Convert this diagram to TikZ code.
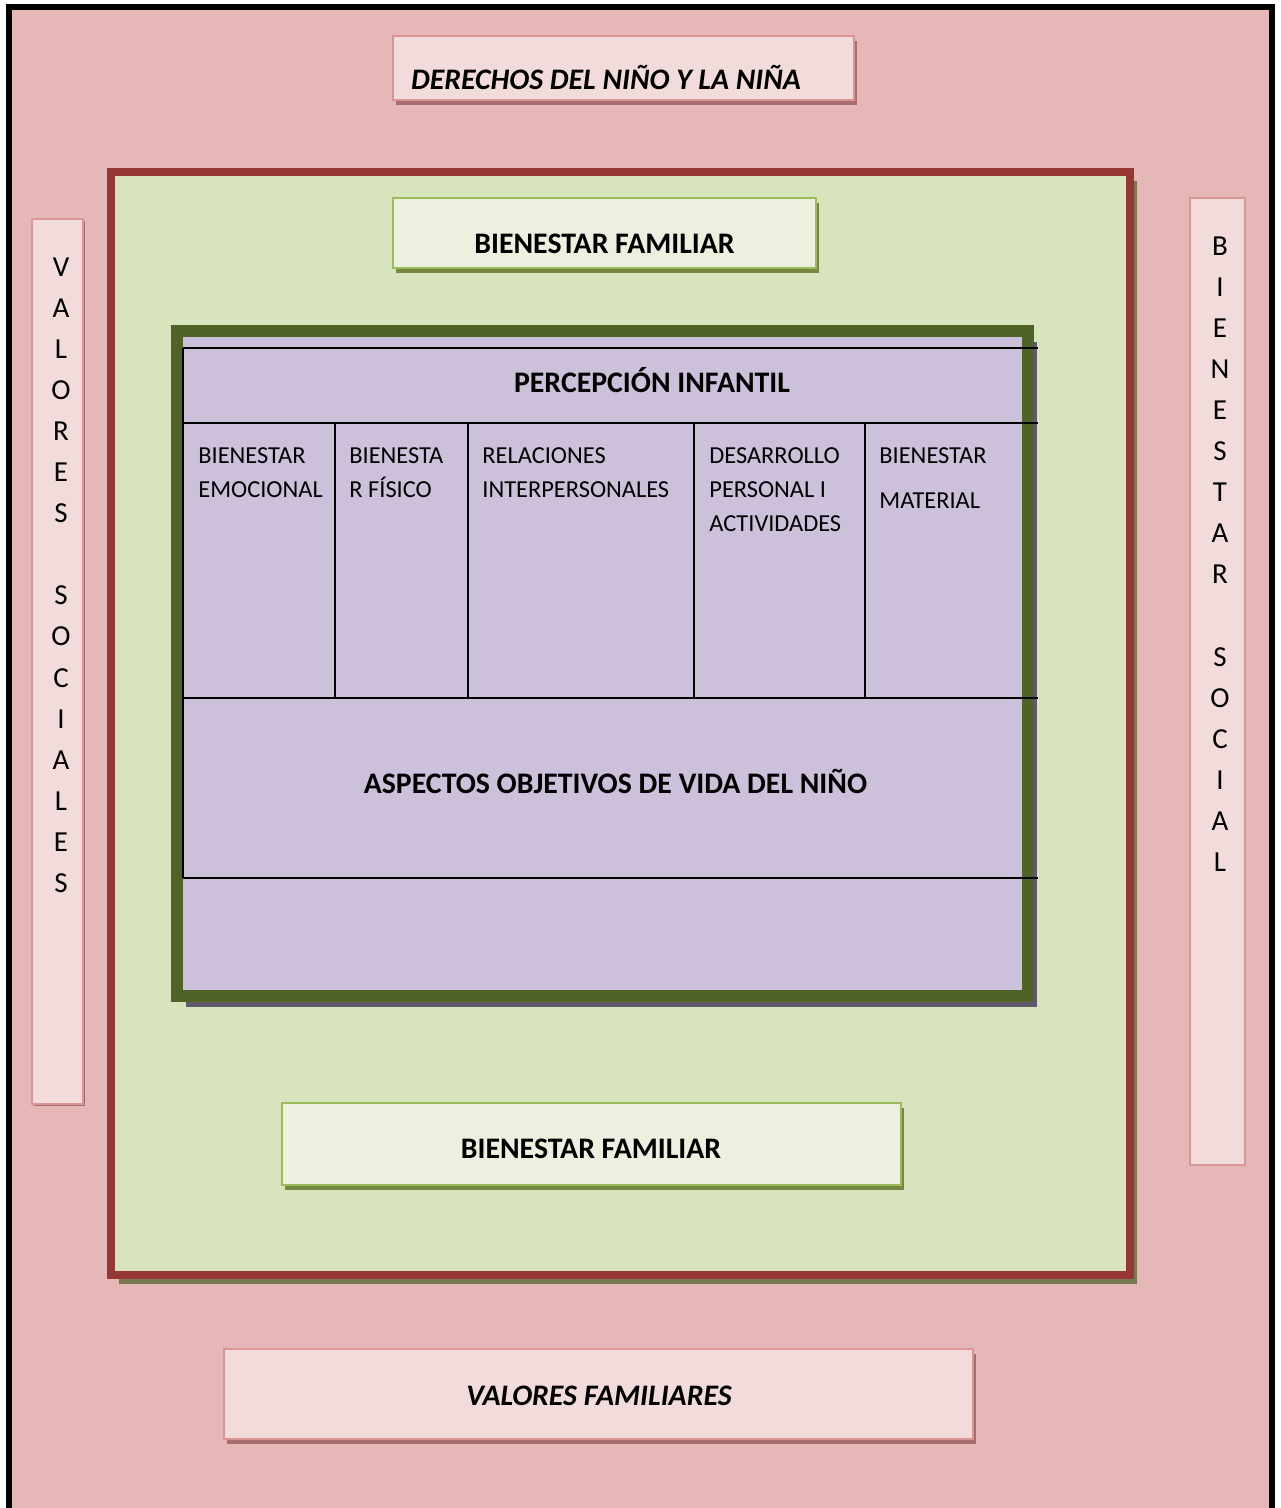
\documentclass[tikz,border=0pt]{standalone}
\usepackage{fontspec}
\setmainfont{Carlito}
\usetikzlibrary{shadows}

\definecolor{fondo}{HTML}{E5B8B7}
\definecolor{rosaclaro}{HTML}{F2DCDB}
\definecolor{rosaborde}{HTML}{D99694}
\definecolor{rosasombra}{HTML}{A86E6F}
\definecolor{rojomarco}{HTML}{953735}
\definecolor{rojosombra}{HTML}{787852}
\definecolor{verdefondo}{HTML}{D7E4BD}
\definecolor{verdeclaro}{HTML}{EBF1DE}
\definecolor{verdeborde}{HTML}{9BBB59}
\definecolor{verdesombra}{HTML}{76883F}
\definecolor{verdeoscuro}{HTML}{4F6228}
\definecolor{lila}{HTML}{CCC0DA}
\definecolor{lilasombra}{HTML}{5E5A6C}

\tikzset{
  cajarosa/.style={draw=rosaborde, line width=1pt, fill=rosaclaro,
    drop shadow={shadow xshift=1.6pt, shadow yshift=-2.5pt, fill=rosasombra, opacity=1}},
  columna/.style={draw=rosaborde, line width=1pt, fill=rosaclaro},
  cajaverde/.style={draw=verdeborde, line width=1.2pt, fill=verdeclaro,
    drop shadow={shadow xshift=1.5pt, shadow yshift=-2.5pt, fill=verdesombra, opacity=1}},
  marcorojo/.style={draw=rojomarco, line width=4pt, fill=verdefondo,
    drop shadow={shadow xshift=3.75pt, shadow yshift=-4.5pt, fill=rojosombra, opacity=1}},
  marcoverde/.style={draw=verdeoscuro, line width=6pt, fill=lila,
    drop shadow={shadow xshift=4.5pt, shadow yshift=-5.5pt, fill=lilasombra, opacity=1}},
  titulo/.style={font=\fontsize{14.9}{17}\selectfont\bfseries, inner sep=0pt, anchor=base},
  celda/.style={font=\fontsize{12.2}{17}\selectfont, align=left, anchor=north west, inner sep=0pt},
  vertical/.style={font=\fontsize{14.5}{20.55}\selectfont, align=center, anchor=north, inner sep=0pt},
  linea/.style={line width=0.75pt}
}

\begin{document}
\begin{tikzpicture}[x=0.5pt,y=-0.5pt]
  \useasboundingbox (0,0) rectangle (1280,1508);
  \fill[white] (0,0) rectangle (1280,1508);
  \draw[line width=3pt, fill=fondo] (9,7) rectangle (1271.5,1530);

  \node[cajarosa, minimum width=230.5pt, minimum height=32pt] (derechos) at (623.5,68) {};
  \node[titulo, font=\fontsize{14.9}{17}\selectfont\bfseries\itshape] (tDerechos) at (606,90) {DERECHOS DEL NIÑO Y LA NIÑA};

  \node[columna, drop shadow={shadow xshift=1.2pt, shadow yshift=-1.2pt, fill=rosasombra, opacity=1},
    minimum width=25.5pt, minimum height=442.5pt] (valSoc) at (57.5,661.5) {};
  \node[vertical] (tValSoc) at (61,257) {V\\A\\L\\O\\R\\E\\S\\\mbox{}\\S\\O\\C\\I\\A\\L\\E\\S};

  \node[columna, minimum width=27.5pt, minimum height=483.5pt] (bienSoc) at (1217.5,681.5) {};
  \node[vertical] (tBienSoc) at (1220,236) {B\\I\\E\\N\\E\\S\\T\\A\\R\\\mbox{}\\S\\O\\C\\I\\A\\L};

  \node[marcorojo, minimum width=509.25pt, minimum height=551.5pt] (familia) at (620.25,723.5) {};

  \node[cajaverde, minimum width=211.5pt, minimum height=35pt] (famArriba) at (604.5,233) {};
  \node[titulo] (tFamArriba) at (604.5,254) {BIENESTAR FAMILIAR};

  \node[marcoverde, minimum width=425.25pt, minimum height=332pt] (nino) at (602.25,663.5) {};

  % tabla
  \foreach \y in {348,423,698,878}
    \draw[linea] (183,\y) -- (1038,\y);
  \draw[linea] (183,348) -- (183,878);
  \foreach \x in {335,468,694,865}
    \draw[linea] (\x,423) -- (\x,698);

  \node[titulo] (tPercepcion) at (652,393) {PERCEPCIÓN INFANTIL};
  \node[celda] (tEmocional) at (198,447) {BIENESTAR\\EMOCIONAL};
  \node[celda] (tFisico) at (349,447) {BIENESTA\\R FÍSICO};
  \node[celda] (tRelaciones) at (482,447) {RELACIONES\\INTERPERSONALES};
  \node[celda] (tDesarrollo) at (709,447) {DESARROLLO\\PERSONAL I\\ACTIVIDADES};
  \node[celda] (tMaterial) at (879,447) {BIENESTAR\\[5.5pt]MATERIAL};
  \node[titulo] (tAspectos) at (615.5,793) {ASPECTOS OBJETIVOS DE VIDA DEL NIÑO};

  \node[cajaverde, minimum width=309.5pt, minimum height=41pt] (famAbajo) at (591.5,1144) {};
  \node[titulo] (tFamAbajo) at (591,1158) {BIENESTAR FAMILIAR};

  \node[cajarosa, minimum width=374.5pt, minimum height=45pt] (valFam) at (598.5,1393.5) {};
  \node[titulo, font=\fontsize{14.9}{17}\selectfont\bfseries\itshape] (tValFam) at (599,1405) {VALORES FAMILIARES};
\end{tikzpicture}
\end{document}
